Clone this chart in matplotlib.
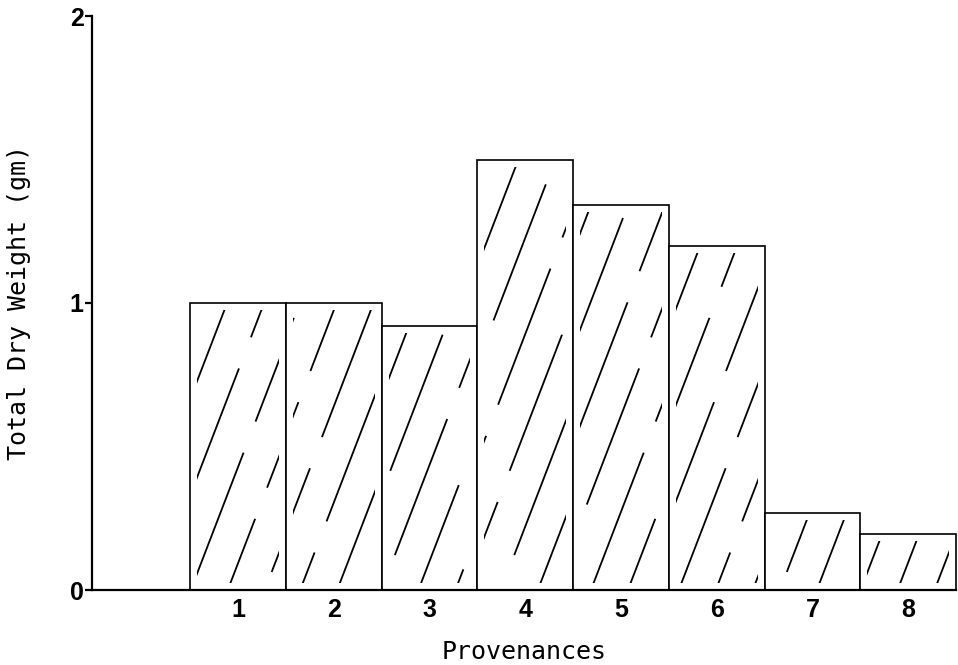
import matplotlib
matplotlib.use("Agg")
import matplotlib.pyplot as plt
from matplotlib.lines import Line2D
from matplotlib.patches import Rectangle
from matplotlib.font_manager import FontProperties
import numpy as np

plt.rcParams['lines.scale_dashes'] = False

provenances = ["1", "2", "3", "4", "5", "6", "7", "8"]
dry_weight = [1.00, 1.00, 0.92, 1.50, 1.34, 1.20, 0.27, 0.195]
y_ticks = [0, 1, 2]
y_tick_labels = ["0", "1", "2"]

W, H, DPI = 958, 665, 100
fig = plt.figure(figsize=(W / DPI, H / DPI), dpi=DPI)
ax = fig.add_axes([92 / W, 75 / H, (956 - 92) / W, (590 - 16) / H])

x = np.arange(1, len(provenances) + 1)
bars = ax.bar(x, dry_weight, width=1.0, facecolor="white", edgecolor="black",
              linewidth=1.2, clip_on=False, zorder=2)

ax.set_xlim(-0.525, 8.5)
ax.set_ylim(0, 2)

# Steep, broken diagonal shading inside each bar
fig.canvas.draw()
px_x = ax.transData.transform((1, 0))[0] - ax.transData.transform((0, 0))[0]
px_y = ax.transData.transform((0, 1))[1] - ax.transData.transform((0, 0))[1]
pix_slope = 2.6                      # rise over run, in pixels
spacing_px = 37.0                    # horizontal spacing between strokes
inset_px = 7.0                       # strokes stay clear of the outline
slope = pix_slope * px_x / px_y
spacing = spacing_px / px_x
ix, iy = inset_px / px_x, inset_px / px_y
for i, (bar, h) in enumerate(zip(bars, dry_weight)):
    x0 = bar.get_x()
    x1 = x0 + bar.get_width()
    clip = Rectangle((x0 + ix, iy), bar.get_width() - 2 * ix, h - 2 * iy,
                     transform=ax.transData, visible=False)
    ax.add_patch(clip)
    c_start = x0 - h / slope - spacing
    cs = np.arange(c_start + (i * 0.37 % 1) * spacing, x1 + spacing, spacing)
    for k, c in enumerate(cs):
        ys = np.array([-0.05, h + 0.05])
        xs = c + ys / slope
        off = ((i * 7 + k * 5) % 11) * 13.0
        ln = Line2D(xs, ys, color="black", linewidth=1.3,
                    linestyle=(off, (105, 24)), zorder=3)
        ax.add_line(ln)
        ln.set_clip_path(clip)

for s in ["top", "right"]:
    ax.spines[s].set_visible(False)
for s in ["left", "bottom"]:
    ax.spines[s].set_linewidth(1.6)

ax.set_yticks(y_ticks)
ax.set_yticklabels(y_tick_labels)
ax.set_xticks(x)
ax.set_xticklabels(provenances)
ax.tick_params(axis="y", length=5, width=1.6, pad=1, direction="out")
ax.tick_params(axis="x", length=0, pad=6)
tick_font = FontProperties(family=["Liberation Sans Narrow", "Liberation Sans"],
                           weight="bold", size=18)
for lab in ax.get_xticklabels() + ax.get_yticklabels():
    lab.set_fontproperties(tick_font)

label_font = dict(family="DejaVu Sans Mono", size=18)
ax.set_xlabel("Provenances", fontdict=label_font, labelpad=13)
ax.set_ylabel("Total Dry Weight (gm)", fontdict=label_font, labelpad=28)

fig.savefig("out.png", dpi=DPI)
